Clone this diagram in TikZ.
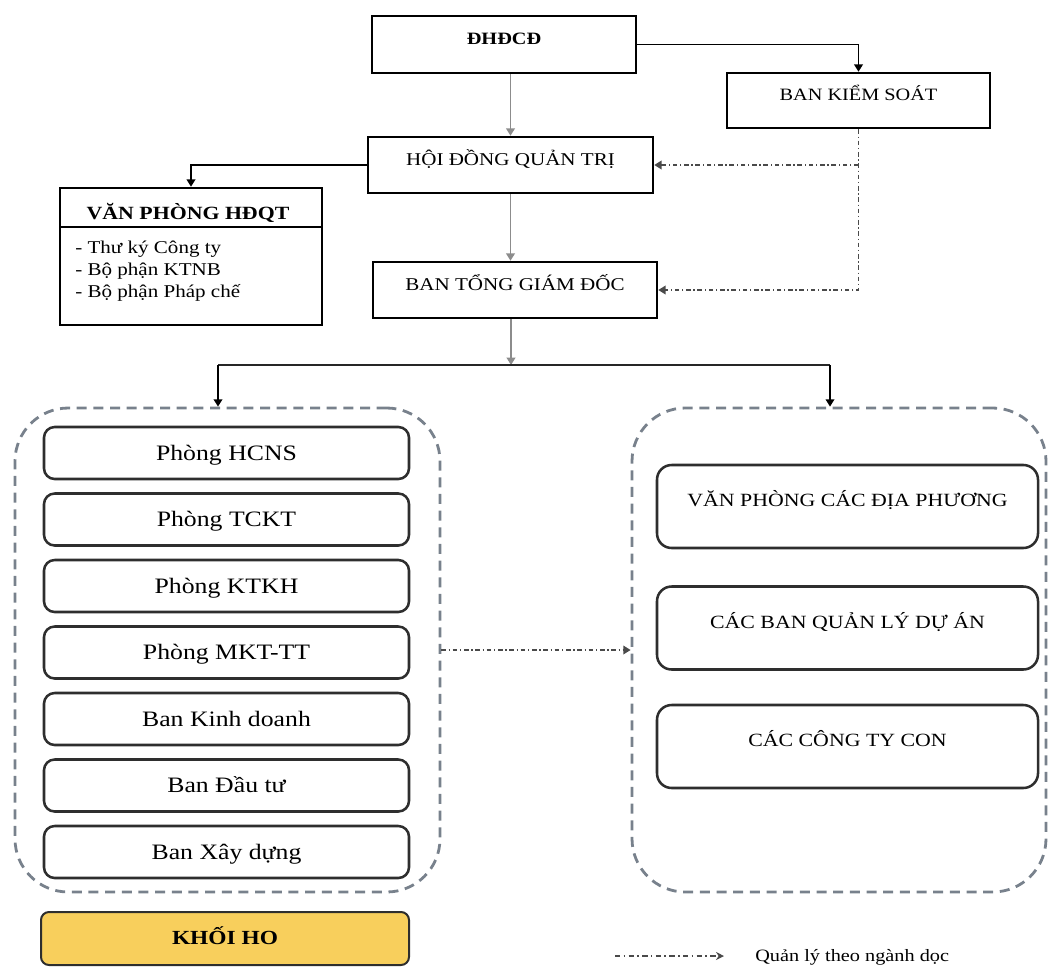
\documentclass[tikz,border=0pt]{standalone}
\usepackage{fontspec}
\setmainfont{Liberation Serif}
\usepackage{graphicx}
\usetikzlibrary{arrows.meta}
\newcommand{\sx}[1]{\scalebox{1.17}[1]{#1}}
\definecolor{grpline}{HTML}{78818C}
\definecolor{boxline}{HTML}{2E2E2E}
\definecolor{hoyellow}{HTML}{F8CF5C}
\definecolor{conngray}{HTML}{8C8C8C}
\definecolor{ddline}{HTML}{4A4A4A}
\begin{document}
\begin{tikzpicture}[x=0.75pt,y=-0.75pt,
  topbox/.style 2 args={draw=black, line width=1.9pt, inner sep=0pt,
    minimum width=#1*0.75pt, minimum height=#2*0.75pt,
    text height=0pt, text depth=0pt, font=\fontsize{13.5}{15}\selectfont},
  pbox/.style={draw=boxline, line width=1.9pt, rounded corners=8pt, inner sep=0pt,
    minimum width=365*0.75pt, minimum height=52*0.75pt,
    text height=10.5pt, text depth=0pt, font=\fontsize{16.5}{18}\selectfont},
  rbox/.style={draw=boxline, line width=1.9pt, rounded corners=11pt, inner sep=0pt,
    minimum width=381*0.75pt, minimum height=83*0.75pt,
    text height=0pt, text depth=0pt, font=\fontsize{14}{16}\selectfont},
  grp/.style 2 args={draw=grpline, line width=2.1pt, dash pattern=on 7.5pt off 5pt,
    rounded corners=40pt, inner sep=0pt,
    minimum width=#1*0.75pt, minimum height=#2*0.75pt},
  tip/.style={-{Triangle[width=6.5pt,length=5.5pt]}},
  conn/.style={draw=black, line width=1.2pt, tip},
  conng/.style={draw=conngray, line width=1.2pt, tip},
  plain/.style={draw=black!85, line width=1.2pt},
  dd/.style={draw=ddline, line width=1.1pt, dash pattern=on 3.5pt off 2pt on 1pt off 2pt},
  ddtip/.style={dd, tip},
  itemtxt/.style={anchor=base west, inner sep=0pt, font=\fontsize{13.5}{15}\selectfont}
]
\useasboundingbox (0,0) rectangle (1048,967);

% top boxes
\node[topbox={264}{57}, font=\bfseries\fontsize{13}{15}\selectfont] (dhcd) at (504,44.5) {\sx{ĐHĐCĐ}};
\node[topbox={263}{55}, font=\fontsize{13}{15}\selectfont] (bks) at (858.5,100.5) {\sx{BAN KIỂM SOÁT}};
\node[topbox={285}{56}] (hdqt) at (510.5,165) {\sx{HỘI ĐỒNG QUẢN TRỊ}};
\node[topbox={284}{56}] (btgd) at (515,290) {\sx{BAN TỔNG GIÁM ĐỐC}};

% VP HDQT
\node[draw=black, line width=1.9pt, inner sep=0pt, minimum width=262*0.75pt,
  minimum height=137*0.75pt] (vp) at (191,256.5) {};
\draw[black, line width=1.5pt] (60,227) -- (322,227);
\node[anchor=base, inner sep=0pt, font=\bfseries\fontsize{14}{16}\selectfont] (vph) at (188,219) {\sx{VĂN PHÒNG HĐQT}};
\node[itemtxt] (vpi1) at (75,253) {\sx{- Thư ký Công ty}};
\node[itemtxt] (vpi2) at (75,275) {\sx{- Bộ phận KTNB}};
\node[itemtxt] (vpi3) at (75,297) {\sx{- Bộ phận Pháp chế}};

% groups
\node[grp={425}{484}] (lgrp) at (227.5,650) {};
\node[grp={414}{484}] (rgrp) at (839,650) {};

% left boxes
\node[pbox] (p1) at (226.5,453) {\sx{Phòng HCNS}};
\node[pbox] (p2) at (226.5,519.5) {\sx{Phòng TCKT}};
\node[pbox] (p3) at (226.5,586) {\sx{Phòng KTKH}};
\node[pbox] (p4) at (226.5,652.5) {\sx{Phòng MKT-TT}};
\node[pbox] (p5) at (226.5,719) {\sx{Ban Kinh doanh}};
\node[pbox] (p6) at (226.5,785.5) {\sx{Ban Đầu tư}};
\node[pbox] (p7) at (226.5,852) {\sx{Ban Xây dựng}};

% right boxes
\node[rbox] (r1) at (847.5,506.5) {\sx{VĂN PHÒNG CÁC ĐỊA PHƯƠNG}};
\node[rbox] (r2) at (847.5,628) {\sx{CÁC BAN QUẢN LÝ DỰ ÁN}};
\node[rbox] (r3) at (847.5,746.5) {\sx{CÁC CÔNG TY CON}};

% Khoi HO
\node[draw=boxline, fill=hoyellow, line width=1.5pt, rounded corners=6pt, inner sep=0pt,
  minimum width=368*0.75pt, minimum height=53*0.75pt, text height=8.25pt, text depth=0pt,
  font=\bfseries\fontsize{15}{17}\selectfont] (ho) at (225,938.5) {\sx{KHỐI HO}};

% connectors
\draw[conn] (dhcd.east) -| (bks.north);
\draw[conng] (hdqt.north |- dhcd.south) -- (hdqt.north);
\draw[conn] (hdqt.west) -| (vp.north);
\draw[conng] (hdqt.south) -- (hdqt.south |- btgd.north);
\coordinate (jn) at (511,365);
\coordinate (jl) at (218,365);
\coordinate (jr) at (830,365);
\draw[conng] (jn |- btgd.south) -- (jn);
\draw[plain] (jl) -- (jr);
\draw[conn] (jl) -- (jl |- lgrp.north);
\draw[conn] (jr) -- (jr |- rgrp.north);

\draw[ddtip] (bks.south) |- (btgd.east);
\coordinate (jb) at (bks.south |- hdqt.east);
\draw[ddtip] (jb) -- (hdqt.east);
\draw[ddtip] (lgrp.east) -- (rgrp.west);

% legend
\coordinate (la) at (615,956);
\coordinate (lb) at (724,956);
\draw[draw=ddline, line width=1.6pt, dash pattern=on 4pt off 2.5pt on 1.2pt off 2.5pt,
  -{Stealth[width=6pt,length=6pt]}] (la) -- (lb);
\node[anchor=base west, inner sep=0pt, font=\fontsize{13}{15}\selectfont] (legt) at (755,961) {\sx{Quản lý theo ngành dọc}};
\end{tikzpicture}
\end{document}
